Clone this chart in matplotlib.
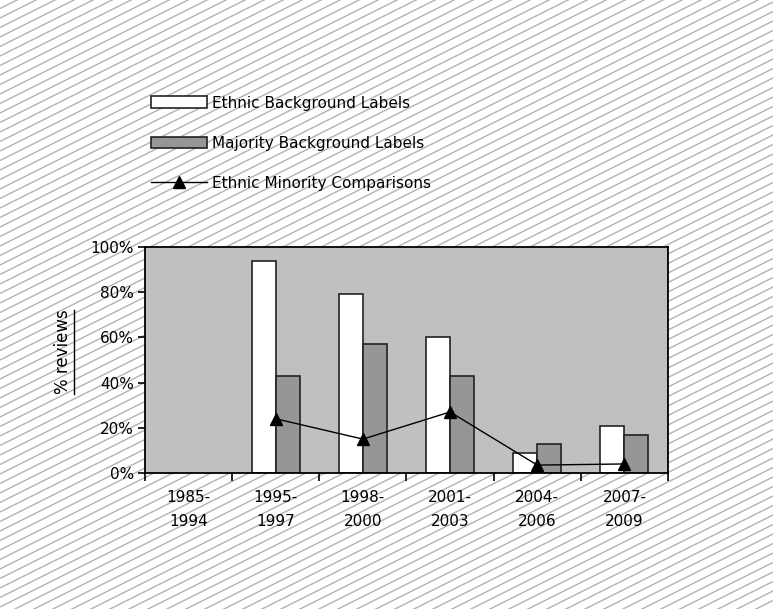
import numpy as np
import matplotlib
matplotlib.use("Agg")
import matplotlib.pyplot as plt
from matplotlib.collections import LineCollection
from matplotlib.lines import Line2D

plt.rcParams['font.family'] = ['DejaVu Sans']

# Data
periods = ["1985-\n1994", "1995-\n1997", "1998-\n2000", "2001-\n2003", "2004-\n2006", "2007-\n2009"]
ethnic_labels = [np.nan, 94, 79, 60, 9, 21]
majority_labels = [np.nan, 43, 57, 43, 13, 17]
minority_comparisons = [np.nan, 24, 15, 27, 3.5, 4]
y_ticks = [0, 20, 40, 60, 80, 100]

W, H, DPI = 773, 609, 100
fig = plt.figure(figsize=(W / DPI, H / DPI), dpi=DPI)
fig.patch.set_facecolor("white")

# Diagonal hatch over the whole page background
segs = []
step = 9.5
for c in np.arange(-W * 0.5 - 20, H + 20, step):
    x0, x1 = 0.0, float(W)
    y0, y1 = c, c + 0.5 * W
    segs.append([(x0 / W, y0 / H), (x1 / W, y1 / H)])
hatch = LineCollection(segs, colors="#b2b2b2", linewidths=1.0,
                       transform=fig.transFigure, zorder=0)
fig.add_artist(hatch)

# Plot area
left, right, top, bottom = 145, 668, 247, 473
ax = fig.add_axes([left / W, 1 - bottom / H, (right - left) / W, (bottom - top) / H])
ax.set_facecolor("#c0c0c0")
ax.set_zorder(2)

x = np.arange(len(periods))
bw = 0.275
b1 = ax.bar(x - bw / 2, ethnic_labels, bw, color="white", edgecolor="#222222",
            linewidth=1.2, label="Ethnic Background Labels", zorder=2)
b2 = ax.bar(x + bw / 2, majority_labels, bw, color="#969696", edgecolor="#222222",
            linewidth=1.2, label="Majority Background Labels", zorder=2)
ln, = ax.plot(x, minority_comparisons, color="black", linewidth=1.0, marker="^",
              markersize=9, label="Ethnic Minority Comparisons", zorder=3)

ax.set_xlim(-0.5, len(periods) - 0.5)
ax.set_ylim(0, 100)
ax.set_yticks(y_ticks)
ax.set_yticklabels([f"{v}%" for v in y_ticks], fontsize=11)
ax.set_xticks(x)
ax.set_xticklabels(periods, fontsize=11, linespacing=1.75)
ax.tick_params(axis="x", length=0, pad=12)
ax.set_xticks(np.arange(-0.5, len(periods)), minor=True)
ax.tick_params(axis="x", which="minor", length=6, width=1.2, direction="out")
ax.tick_params(axis="y", length=5, width=1.2, direction="out", pad=3)
for s in ax.spines.values():
    s.set_color("black")
    s.set_linewidth(1.3)

# Y axis label, underlined
ylab = fig.text(63 / W, 1 - 352 / H, "% reviews", rotation=90, fontsize=12,
                ha="center", va="center")
fig.canvas.draw()
bb = ylab.get_window_extent()
ux = (bb.x1 + 2) / W
fig.add_artist(Line2D([ux, ux], [bb.y0 / H, bb.y1 / H], color="black",
                      linewidth=1.0, transform=fig.transFigure))

# Legend above the plot area
leg = fig.legend([b1, b2, ln],
                 ["Ethnic Background Labels", "Majority Background Labels",
                  "Ethnic Minority Comparisons"],
                 loc="upper left",
                 bbox_to_anchor=(143 / W, 1 - 88 / H), frameon=False,
                 fontsize=11, handlelength=3.7, handleheight=0.8,
                 labelspacing=1.65, handletextpad=0.3, borderpad=0)

fig.savefig("out.png", dpi=DPI, facecolor="white")
